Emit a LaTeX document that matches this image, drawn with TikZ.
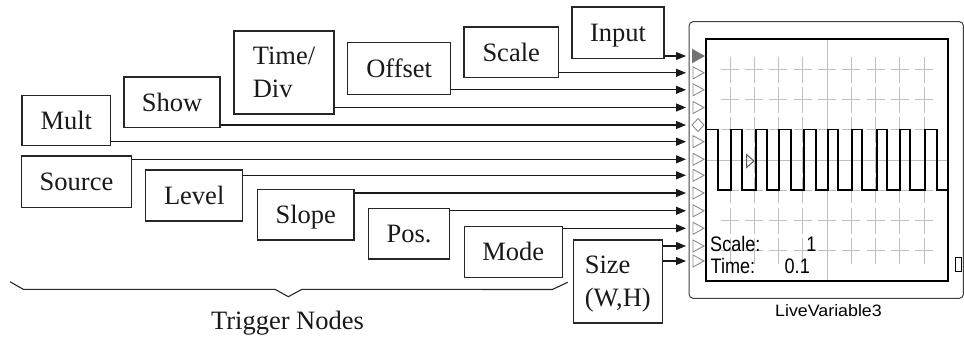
\documentclass[tikz,border=0pt]{standalone}
\usepackage{fontspec}
\setmainfont{Liberation Serif}
\newfontfamily\scopefont[FakeStretch=0.86]{Liberation Sans}
\newfontfamily\captionfont[FakeStretch=1.08]{Liberation Sans}
\usetikzlibrary{arrows.meta}

\begin{document}
\begin{tikzpicture}[x=1pt,y=-1pt,
  tbox/.style={draw=black!85, line width=1.2pt, inner sep=0pt,
    font=\fontsize{26.5}{33}\selectfont, text=black!90, text depth=0pt},
  onebox/.style={tbox, text height=17.5pt},
  twobox/.style={tbox, align=left},
  feed/.style={draw=black!90, line width=1.1pt, -{Triangle[length=10pt,width=8pt]}},
  port/.style={draw=black!45, line width=0.9pt},
  gridline/.style={draw=black!25, line width=0.9pt},
  wave/.style={draw=black, line width=1.8pt},
  scopetext/.style={inner sep=0pt, font=\scopefont\fontsize{21}{24}\selectfont},
  bracket/.style={draw=black!85, line width=1.1pt}
]
\useasboundingbox (0,0) rectangle (964,338);

% parameter nodes
\node[onebox, minimum width=92pt,   minimum height=51.3pt] (input)   at (618,32.7)   {Input};
\node[onebox, minimum width=94.3pt, minimum height=50.7pt] (scale)   at (511.2,52.3) {Scale};
\node[onebox, minimum width=103pt,  minimum height=51.6pt] (offset)  at (399.2,68.5) {Offset};
\node[twobox, minimum width=100pt,  minimum height=83pt]   (timediv) at (284,72.5)   {Time/\\Div};
\node[onebox, minimum width=96pt,   minimum height=50.7pt] (show)    at (172,102.3)  {Show};
\node[onebox, minimum width=88.7pt, minimum height=50pt]   (mult)    at (66.3,120.7) {Mult};
\node[onebox, minimum width=110.4pt,minimum height=51.7pt] (source)  at (76.5,181.8) {Source};
\node[onebox, minimum width=97pt,   minimum height=51pt]   (level)   at (194.2,195.5){Level};
\node[onebox, minimum width=96.3pt, minimum height=50.7pt] (slope)   at (305.8,214.7){Slope};
\node[onebox, minimum width=81.4pt, minimum height=50.7pt] (pos)     at (409,233.7)  {Pos.};
\node[onebox, minimum width=98pt,   minimum height=51pt]   (mode)    at (513.3,251.8){Mode};
\node[twobox, minimum width=89pt,   minimum height=83pt]   (size)    at (617.8,281.5){Size\\(W,H)};

% trigger bracket and its label
\draw[bracket] (10,281.7) -- (23.3,289.3) -- (275,289.3) -- (288.3,296.7)
  -- (302,289.3) -- (552.3,289.5) -- (567.7,282.3);
\node[inner sep=0pt, font=\fontsize{26.5}{33}\selectfont, text=black!90,
  text height=17.5pt, text depth=0pt] (trig) at (287.5,320.8) {Trigger Nodes};

% scope block frame
\node[draw=black!75, line width=1pt, rounded corners=4pt, inner sep=0pt,
  minimum width=274.3pt, minimum height=276.6pt] (frame) at (826.2,160) {};

% screen grid: solid centre lines, crosses elsewhere
\draw[gridline] (827,39.3) -- (827,281);
\draw[gridline] (705.7,160.1) -- (948.3,160.1);
\foreach \gx in {729.96,754.22,778.48,802.74,827,851.26,875.52,899.78,924.04}
  \foreach \gy in {69.5,99.7,129.9,160.1,190.4,220.6,250.8} {
    \draw[gridline] (\gx-9,\gy) -- (\gx+9,\gy);
    \draw[gridline] (\gx,\gy-13) -- (\gx,\gy+13);
  }

% square wave trace
\draw[wave] (705.7,129.5) -| (718,190) -| (730.7,129.5) -| (742.3,190)
  -| (755.7,129.5) -| (767.3,190) -| (779,129.5) -| (791.3,190)
  -| (804,129.5) -| (815.7,190) -| (828,129.5) -| (838,190)
  -| (851.7,129.5) -| (861.7,190) -| (876.7,129.5) -| (886.7,190)
  -| (900,129.5) -| (910,190) -| (925,129.5) -| (936.7,190) -- (948.3,190);

% trigger level marker
\draw[draw=black!65, line width=1pt] (746.5,154.5) -- (754,161) -- (746.5,167.5) -- cycle;

% screen border
\node[draw=black, line width=1.8pt, inner sep=0pt,
  minimum width=242.6pt, minimum height=241.7pt] (screen) at (827,160.15) {};

% readouts
\node[scopetext, anchor=base west] (scalelbl) at (710,251.5) {Scale:};
\node[scopetext, anchor=base east] (scaleval) at (816.7,251.5) {1};
\node[scopetext, anchor=base west] (timelbl)  at (710.5,273.3) {Time:};
\node[scopetext, anchor=base east] (timeval)  at (810,273.3) {0.1};

% output port
\draw[black, line width=1pt] (955,257.3) rectangle (961.7,271);

% block caption
\node[anchor=base, inner sep=0pt, font=\captionfont\fontsize{16.5}{20}\selectfont]
  (caption) at (828.5,316.7) {LiveVariable3};

% input ports
\foreach \py [count=\i] in {56,72.8,89.8,107.5,125,141.7,159.3,175.3,193,210.8,228.3,246,261}
  \coordinate (p\i) at (686,\py);
\foreach \py in {72.8,89.8,107.5,141.7,159.3,175.3,193,210.8,228.3,246,261}
  \draw[port] (693,\py-6) -- (704,\py) -- (693,\py+6) -- cycle;
\draw[port, fill=black!55, draw=black!55] (692.5,49.5) -- (704,56) -- (692.5,62.5) -- cycle;
\draw[port] (692,125) -- (698,118.5) -- (704,125) -- (698,131.5) -- cycle;

% connections into the block
\draw[feed] (input.east   |- p1)  -- (p1);
\draw[feed] (scale.east   |- p2)  -- (p2);
\draw[feed] (offset.east  |- p3)  -- (p3);
\draw[feed] (timediv.east |- p4)  -- (p4);
\draw[feed] (show.east    |- p5)  -- (p5);
\draw[feed] (mult.east    |- p6)  -- (p6);
\draw[feed] (source.east  |- p7)  -- (p7);
\draw[feed] (level.east   |- p8)  -- (p8);
\draw[feed] (slope.east   |- p9)  -- (p9);
\draw[feed] (pos.east     |- p10) -- (p10);
\draw[feed] (mode.east    |- p11) -- (p11);
\draw[feed] (size.east    |- p12) -- (p12);
\draw[feed] (size.east    |- p13) -- (p13);
\end{tikzpicture}
\end{document}
